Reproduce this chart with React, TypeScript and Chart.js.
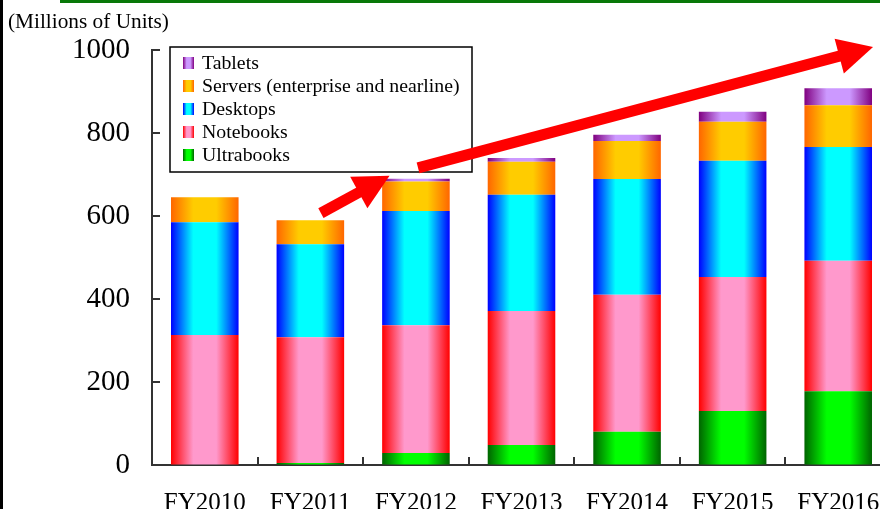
import React, { useEffect, useRef } from "react";
import { Chart, registerables } from "chart.js";

Chart.register(...registerables);

const categories = ["FY2010", "FY2011", "FY2012", "FY2013", "FY2014", "FY2015", "FY2016"];
const ultrabooks = [0, 5, 29, 48, 80, 130, 178];
const notebooks = [313, 303, 308, 323, 330, 323, 314];
const desktops = [272, 224, 275, 280, 279, 280, 274];
const servers = [60, 58, 71, 80, 92, 94, 101];
const tablets = [0, 0, 7, 9, 15, 24, 41];
const yTicks = [0, 200, 400, 600, 800, 1000];
// arrow segments in data space: [fromIndex, fromValue, toIndex, toValue]
const arrows = [
  [1.1, 607, 1.75, 697],
  [2.02, 716, 6.33, 1007],
];

const FONT = "'Liberation Serif', 'Times New Roman', serif";
const BAR_PCT = 0.64;

const palette: Record<string, [string, string]> = {
  Ultrabooks: ["#006400", "#00FF00"],
  Notebooks: ["#FF0000", "#FF99CC"],
  Desktops: ["#0000FF", "#00FFFF"],
  "Servers (enterprise and nearline)": ["#FF6600", "#FFCC00"],
  Tablets: ["#800080", "#CC99FF"],
};

function makeGrad(c: CanvasRenderingContext2D, x0: number, x1: number, dark: string, light: string) {
  const g = c.createLinearGradient(x0, 0, x1, 0);
  g.addColorStop(0, dark);
  g.addColorStop(0.33, light);
  g.addColorStop(0.67, light);
  g.addColorStop(1, dark);
  return g;
}

function barBg(label: string) {
  const [dark, light] = palette[label];
  return (ctx: any) => {
    const chart = ctx.chart;
    const xs = chart.scales && chart.scales.x;
    if (!xs || !chart.chartArea || ctx.type !== "data") return dark;
    const cx = xs.getPixelForValue(ctx.dataIndex);
    const w = (xs.width / categories.length) * BAR_PCT;
    return makeGrad(chart.ctx, cx - w / 2, cx + w / 2, dark, light);
  };
}

const decorPlugin = {
  id: "decor",
  afterDatasetsDraw(chart: any) {
    const c: CanvasRenderingContext2D = chart.ctx;
    const ca = chart.chartArea;
    const xs = chart.scales.x;
    const ys = chart.scales.y;
    c.save();
    // inward ticks
    c.strokeStyle = "#333";
    c.lineWidth = 2;
    c.beginPath();
    for (const v of yTicks) {
      if (v === 0) continue;
      const y = Math.round(ys.getPixelForValue(v));
      c.moveTo(ca.left, y);
      c.lineTo(ca.left + 8, y);
    }
    for (let i = 0; i < categories.length; i++) {
      const x = Math.round(xs.getPixelForValue(i + 0.5));
      c.moveTo(x, ca.bottom);
      c.lineTo(x, ca.bottom - 8);
    }
    c.stroke();

    // legend
    const bx = ca.left + 18;
    const by = ca.top - 3;
    const bw = 302;
    const bh = 125;
    c.fillStyle = "#fff";
    c.fillRect(bx, by, bw, bh);
    c.strokeStyle = "#000";
    c.lineWidth = 1.5;
    c.strokeRect(bx, by, bw, bh);
    const ds = chart.data.datasets.slice().reverse();
    c.font = `19.8px ${FONT}`;
    c.textBaseline = "middle";
    c.textAlign = "left";
    ds.forEach((d: any, i: number) => {
      const cy = by + 16 + i * 23;
      const [dark, light] = palette[d.label];
      const sx = bx + 13;
      c.fillStyle = makeGrad(c, sx, sx + 11, dark, light);
      c.fillRect(sx, cy - 6, 11, 12);
      c.fillStyle = "#000";
      c.fillText(d.label, bx + 32, cy + 1);
    });

    // arrows
    c.fillStyle = "#FF0000";
    c.strokeStyle = "#FF0000";
    for (const [i0, v0, i1, v1] of arrows) {
      const x0 = xs.getPixelForValue(i0);
      const y0 = ys.getPixelForValue(v0);
      const x1 = xs.getPixelForValue(i1);
      const y1 = ys.getPixelForValue(v1);
      const dx = x1 - x0;
      const dy = y1 - y0;
      const len = Math.hypot(dx, dy);
      const ux = dx / len;
      const uy = dy / len;
      const headLen = 35;
      const half = 18;
      const bxm = x1 - ux * headLen;
      const bym = y1 - uy * headLen;
      c.lineWidth = 11;
      c.lineCap = "butt";
      c.beginPath();
      c.moveTo(x0, y0);
      c.lineTo(bxm + ux * 2, bym + uy * 2);
      c.stroke();
      c.beginPath();
      c.moveTo(x1, y1);
      c.lineTo(bxm - uy * half, bym + ux * half);
      c.lineTo(bxm + uy * half, bym - ux * half);
      c.closePath();
      c.fill();
    }

    // unit label
    c.fillStyle = "#000";
    c.font = `21.3px ${FONT}`;
    c.textBaseline = "alphabetic";
    c.fillText("(Millions of Units)", 8, 28);

    // frame decorations
    c.fillStyle = "#000";
    c.fillRect(0, 0, 3, chart.height);
    c.fillStyle = "#087808";
    c.fillRect(60, 0, chart.width, 3);
    c.restore();
  },
};

export default function App() {
  const ref = useRef<HTMLCanvasElement>(null);
  useEffect(() => {
    if (!ref.current) return;
    const mk = (label: string, data: number[]) => ({
      label,
      data,
      backgroundColor: barBg(label),
      borderWidth: 0,
      barPercentage: BAR_PCT,
      categoryPercentage: 1,
    });
    const chart = new Chart(ref.current, {
      type: "bar",
      data: {
        labels: categories,
        datasets: [
          mk("Ultrabooks", ultrabooks),
          mk("Notebooks", notebooks),
          mk("Desktops", desktops),
          mk("Servers (enterprise and nearline)", servers),
          mk("Tablets", tablets),
        ],
      },
      options: {
        responsive: false,
        maintainAspectRatio: false,
        animation: false,
        layout: { padding: { top: 50, left: 0, right: 0, bottom: 0 } },
        plugins: { legend: { display: false }, tooltip: { enabled: false }, title: { display: false } },
        scales: {
          x: {
            stacked: true,
            grid: { display: true, drawOnChartArea: false, drawTicks: false },
            border: { display: true, color: "#333", width: 2 },
            ticks: { color: "#000", font: { family: FONT, size: 25 }, padding: 23, maxRotation: 0, autoSkip: false },
            afterFit: (s: any) => {
              s.height = 44;
              s.paddingLeft = 0;
              s.paddingRight = 0;
            },
          },
          y: {
            stacked: true,
            min: 0,
            max: 1000,
            grid: { display: true, drawOnChartArea: false, drawTicks: false },
            border: { display: true, color: "#333", width: 2 },
            ticks: {
              stepSize: 200,
              color: "#000",
              font: { family: FONT, size: 29 },
              padding: 22,
              callback: (v: any) => String(v),
            },
            afterFit: (s: any) => {
              s.width = 152;
            },
          },
        },
      },
      plugins: [decorPlugin],
    });
    return () => chart.destroy();
  }, []);
  return (
    <div style={{ position: "fixed", top: 0, left: 0, width: 880, height: 509, overflow: "hidden", background: "#fff" }}>
      <canvas ref={ref} width={891} height={509} style={{ display: "block", width: 891, height: 509 }} />
    </div>
  );
}
